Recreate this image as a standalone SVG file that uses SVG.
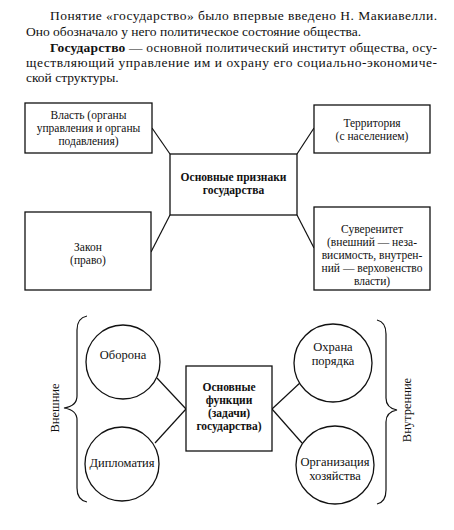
<svg xmlns="http://www.w3.org/2000/svg" width="454" height="530" viewBox="0 0 454 530">
<style>
.p{font-family:"Liberation Serif","Times New Roman",serif;font-size:13.5px;fill:#111}
.t{font-family:"Liberation Serif","Times New Roman",serif;font-size:11.5px;fill:#111;text-anchor:middle}
.c{font-family:"Liberation Serif","Times New Roman",serif;font-size:12.5px;fill:#111;text-anchor:middle}
.b{font-weight:bold}
.box{fill:#fff;stroke:#111;stroke-width:1.3}
.ln{fill:none;stroke:#111;stroke-width:1.2}
</style>
<rect width="454" height="530" fill="#fff"/>
<g id="intro">
<text class="p" x="50" y="20" textLength="387" lengthAdjust="spacing">Понятие «государство» было впервые введено Н. Макиавелли.</text>
<text class="p" x="26" y="36">Оно обозначало у него политическое состояние общества.</text>
<text class="p" x="50" y="52" textLength="387" lengthAdjust="spacing"><tspan class="b">Государство</tspan> — основной политический институт общества, осу-</text>
<text class="p" x="26" y="67" textLength="411" lengthAdjust="spacing">ществляющий управление им и охрану его социально-экономиче-</text>
<text class="p" x="26" y="82">ской структуры.</text>
</g>
<g id="connectors">
<line class="ln" x1="152" y1="128" x2="170" y2="154"/>
<line class="ln" x1="151" y1="252" x2="170" y2="215"/>
<line class="ln" x1="297" y1="154" x2="314" y2="128"/>
<line class="ln" x1="297" y1="215" x2="314" y2="248"/>
<line class="ln" x1="157" y1="378" x2="186" y2="409"/>
<line class="ln" x1="155" y1="443" x2="186" y2="409"/>
<line class="ln" x1="272" y1="409" x2="302" y2="381"/>
<line class="ln" x1="272" y1="409" x2="302" y2="443"/>
</g>
<g id="vlast">
<rect class="box" x="25" y="103" width="127" height="50"/>
<text class="t" x="88.5" y="119">Власть (органы</text>
<text class="t" x="88.5" y="132">управления и органы</text>
<text class="t" x="88.5" y="145">подавления)</text>
</g>
<g id="zakon">
<rect class="box" x="25" y="212" width="126" height="78"/>
<text class="t" x="88" y="251">Закон</text>
<text class="t" x="88" y="264">(право)</text>
</g>
<g id="priznaki">
<rect class="box" x="170" y="154" width="127" height="61"/>
<text class="t b" x="233.5" y="181">Основные признаки</text>
<text class="t b" x="233.5" y="194">государства</text>
</g>
<g id="territoriya">
<rect class="box" x="314" y="105" width="116" height="48"/>
<text class="t" x="372" y="127">Территория</text>
<text class="t" x="372" y="140">(с населением)</text>
</g>
<g id="suverenitet">
<rect class="box" x="314" y="207" width="116" height="83"/>
<text class="t" x="372" y="233">Суверенитет</text>
<text class="t" x="372" y="246">(внешний — неза-</text>
<text class="t" x="372" y="259">висимость, внутрен-</text>
<text class="t" x="372" y="272">ний — верховенство</text>
<text class="t" x="372" y="285">власти)</text>
</g>
<g id="oborona">
<circle class="box" cx="123" cy="362" r="37"/>
<text class="c" x="123" y="359">Оборона</text>
</g>
<g id="diplomatiya">
<circle class="box" cx="122" cy="464" r="37"/>
<text class="c" x="122" y="467">Дипломатия</text>
</g>
<g id="funktsii">
<rect class="box" x="186" y="366" width="86" height="85"/>
<text class="t b" x="229" y="391">Основные</text>
<text class="t b" x="229" y="404">функции</text>
<text class="t b" x="229" y="417">(задачи)</text>
<text class="t b" x="229" y="430">государства)</text>
</g>
<g id="okhrana">
<circle class="box" cx="333" cy="363" r="39"/>
<text class="c" x="333" y="351">Охрана</text>
<text class="c" x="333" y="365">порядка</text>
</g>
<g id="organizatsiya">
<circle class="box" cx="335" cy="465" r="39"/>
<text class="c" x="335" y="466">Организация</text>
<text class="c" x="335" y="480">хозяйства</text>
</g>
<g id="vneshnie">
<path class="ln" d="M87,316 Q77,318 77,330 L77,396 Q77,406 64,408 Q77,410 77,420 L77,488 Q77,500 87,502"/>
<text class="c" transform="translate(59,408) rotate(-90)">Внешние</text>
</g>
<g id="vnutrennie">
<path class="ln" d="M377,320 Q386,322 386,334 L386,398 Q386,408 397,410 Q386,412 386,422 L386,490 Q386,502 377,504"/>
<text class="c" transform="translate(411,410) rotate(-90)">Внутренние</text>
</g>
</svg>
